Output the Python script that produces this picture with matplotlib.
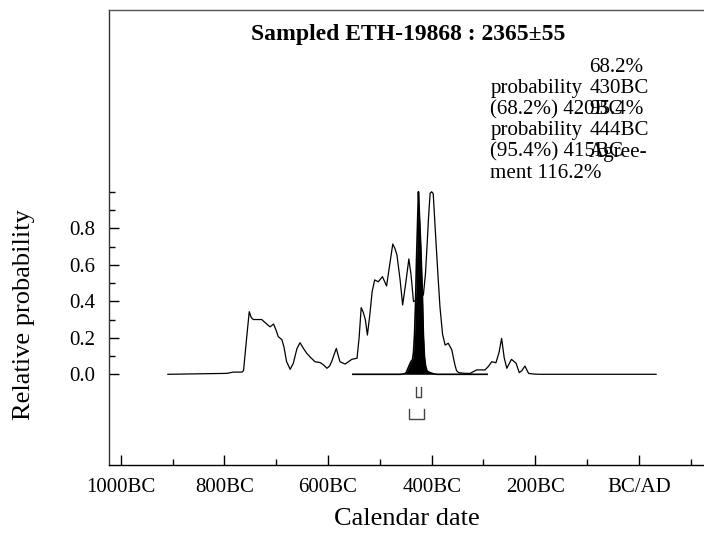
import matplotlib
matplotlib.use("Agg")
import matplotlib.pyplot as plt
import numpy as np
from matplotlib.ticker import FixedLocator

plt.rcParams['font.family'] = ['Liberation Serif', 'DejaVu Serif']

# likelihood (unmodelled) curve: year (negative = BC), relative prob
like_yr = [-909, -795, -783, -766, -763, -757, -752, -748, -744, -736, -728, -718, -712,
           -705, -700, -696, -689, -685, -680, -673, -667, -660, -654, -647, -641, -633,
           -625, -615, -608, -602, -597, -593, -588, -584, -580, -577, -567, -560, -554,
           -544, -540, -536, -532, -528, -524, -519, -515, -510, -503, -495, -487, -481,
           -475, -471, -467, -461, -456, -450, -444, -440, -435, -430, -422, -416, -412,
           -409, -406, -403, -400, -397, -393, -388, -384, -379, -374, -368, -361, -358,
           -355, -352, -348, -336, -326, -313, -297, -290, -284, -280, -276, -270, -265,
           -260, -255, -246, -237, -231, -226, -220, -213, -208, -202, -190, -178, 33]
like_p = [0.0, 0.005, 0.012, 0.012, 0.02, 0.2, 0.343, 0.31, 0.30, 0.30, 0.30, 0.275, 0.26,
          0.275, 0.24, 0.206, 0.19, 0.15, 0.07, 0.027, 0.06, 0.14, 0.173, 0.14, 0.115, 0.09,
          0.069, 0.064, 0.05, 0.033, 0.045, 0.069, 0.11, 0.142, 0.10, 0.069, 0.056, 0.07, 0.082,
          0.088, 0.2, 0.365, 0.34, 0.30, 0.215, 0.334, 0.45, 0.517, 0.507, 0.535, 0.484, 0.6,
          0.714, 0.69, 0.654, 0.52, 0.38, 0.5, 0.632, 0.55, 0.398, 0.407, 0.462, 0.434, 0.55,
          0.699, 0.86, 0.992, 1.0, 0.99, 0.79, 0.55, 0.37, 0.22, 0.16, 0.17, 0.133, 0.09,
          0.05, 0.02, 0.009, 0.005, 0.005, 0.024, 0.024, 0.045, 0.069, 0.066, 0.063, 0.12, 0.197,
          0.09, 0.033, 0.082, 0.06, 0.009, 0.02, 0.045, 0.005, 0.003, 0.001, 0.0, 0.0, 0.0]

# posterior (filled)
post_yr = [-552, -460, -452, -449, -446, -443, -440, -437, -435, -433, -431, -429.5, -427,
           -425.5, -424, -421, -418, -416, -414, -412, -409, -404, -397, -390, -293]
post_p = [0.0, 0.0, 0.003, 0.01, 0.03, 0.05, 0.07, 0.08, 0.12, 0.22, 0.4, 0.6, 0.85,
          1.0, 0.9, 0.7, 0.45, 0.22, 0.1, 0.05, 0.018, 0.01, 0.003, 0.0, 0.0]

# ranges (68.2% and 95.4%)
range_68 = (-430, -420)
range_95 = (-444, -415)

xticks_major = [-1000, -800, -600, -400, -200, 0]
xtick_labels = ['1000BC', '800BC', '600BC', '400BC', '200BC', 'BC/AD']
xticks_minor = [-900, -700, -500, -300, -100, 100]
yticks_major = [0.0, 0.2, 0.4, 0.6, 0.8]
yticks_minor = [0.1, 0.3, 0.5, 0.7, 0.9, 1.0]

title = 'Sampled ETH-19868 : 2365\u00b155'
col1 = ['probability', '(68.2%) 420BC', 'probability', '(95.4%) 415BC', 'ment 116.2%']
col2 = ['68.2%', '430BC', '95.4%', '444BC', 'Agree-']

fig = plt.figure(figsize=(7.04, 5.38), dpi=100)
ax = fig.add_axes([109/704, 73/538, 595/704, 455/538])

ax.plot(like_yr, like_p, color='black', lw=0.9)
ax.fill_between(post_yr, post_p, color='black', lw=0)
ax.plot(post_yr, post_p, color='black', lw=1.2)

# range brackets
for (a, b), (ytop, ybot) in [(range_68, (-0.068, -0.123)), (range_95, (-0.192, -0.247))]:
    ax.plot([a, a, b, b], [ytop, ybot, ybot, ytop], color='#444444', lw=1.0)

ax.set_xlim(-1022.6, 125.5)
ax.set_ylim(-0.497, 1.996)

ax.xaxis.set_major_locator(FixedLocator(xticks_major))
ax.xaxis.set_minor_locator(FixedLocator(xticks_minor))
ax.set_xticklabels(xtick_labels)
ax.yaxis.set_major_locator(FixedLocator(yticks_major))
ax.yaxis.set_minor_locator(FixedLocator(yticks_minor))
ax.set_yticklabels(['%.1f' % v for v in yticks_major])

ax.tick_params(axis='both', which='both', direction='in', labelsize=15)
ax.tick_params(axis='x', which='major', length=7, width=1, pad=9)
ax.tick_params(axis='x', which='minor', length=4, width=1)
ax.tick_params(axis='y', which='major', length=7, width=1, pad=10)
ax.tick_params(axis='y', which='minor', length=4.5, width=1)

ax.spines['right'].set_visible(False)
for s in ['left', 'top', 'bottom']:
    ax.spines[s].set_linewidth(1.0)
ax.spines['top'].set_color('#555555')
ax.spines['left'].set_color('#333333')

ax.set_xlabel('Calendar date', fontsize=19, labelpad=8)
ax.set_ylabel('Relative probability', fontsize=19)
ax.yaxis.set_label_coords(-0.124, 0.33)

ax.text(-445, 1.86, title, ha='center', va='center', fontsize=17, fontweight='bold')

# annotation text: two overlapping columns as in the original
ys1 = [93, 114.5, 135.5, 157, 178.5]
ys2 = [72, 93, 114.5, 135.5, 157]
for txt, py in zip(col1, ys1):
    ax.text(-287, (374.3 - py) / 182.5, txt, ha='left', va='baseline', fontsize=15.1)
for txt, py in zip(col2, ys2):
    ax.text(-96, (374.3 - py) / 182.5, txt, ha='left', va='baseline', fontsize=15.1)

fig.savefig('out.png', dpi=100)
